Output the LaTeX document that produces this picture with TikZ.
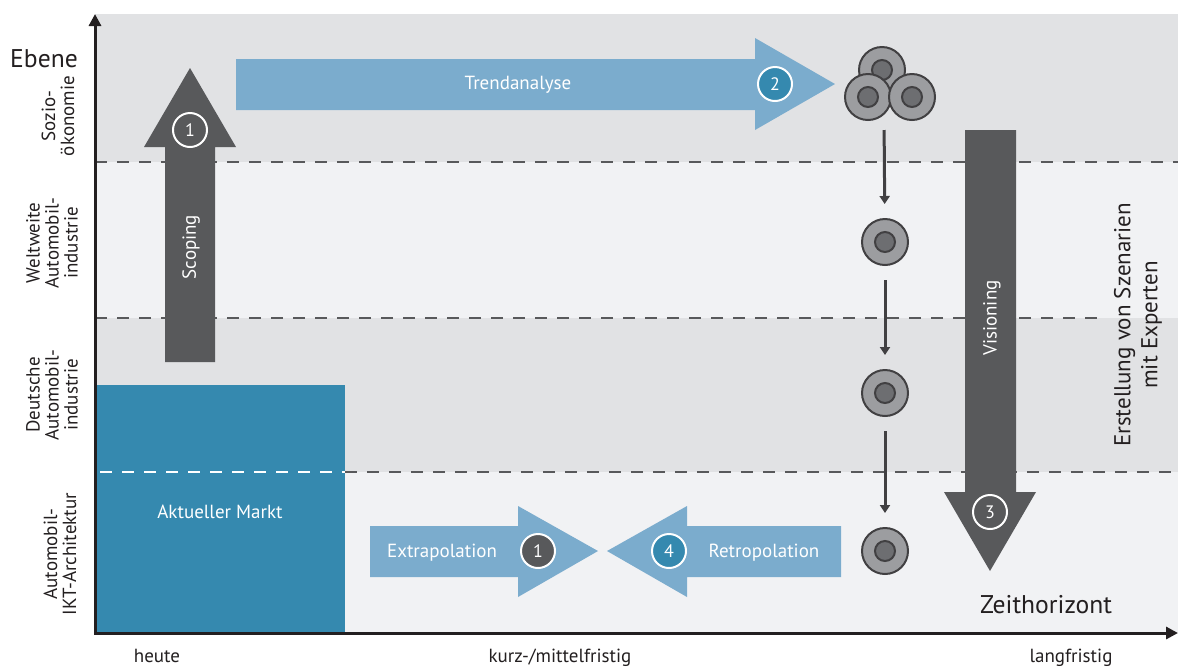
\documentclass[tikz,border=0pt]{standalone}
\usepackage{fontspec}
\setmainfont{PT Sans}
\usetikzlibrary{arrows.meta}
\definecolor{bandgray}{HTML}{E1E2E4}
\definecolor{bandlight}{HTML}{F1F2F4}
\definecolor{dashgray}{HTML}{58595B}
\definecolor{darkarrow}{HTML}{58595B}
\definecolor{lightarrow}{HTML}{7BACCD}
\definecolor{marketblue}{HTML}{3589AF}
\definecolor{axisblack}{HTML}{231F20}
\definecolor{cellline}{HTML}{414042}
\definecolor{cellouter}{HTML}{9C9DA0}
\definecolor{cellinner}{HTML}{6D6E71}
\begin{document}
\begin{tikzpicture}[x=0.5pt, y=-0.5pt,
    lbl/.style = {font=\fontsize{9.5}{9.5}\selectfont, text=axisblack, align=center},
    big/.style = {font=\fontsize{11.5}{13.5}\selectfont, text=axisblack, align=center},
    huge/.style = {font=\fontsize{12.8}{14}\selectfont, text=axisblack},
    wtxt/.style = {font=\fontsize{9.5}{10}\selectfont, text=white},
    num/.style = {circle, draw=white, line width=1pt, minimum size=17pt, inner sep=0pt, text=white, font=\fontsize{9}{9}\selectfont},
    cell/.style = {circle, draw=cellline, fill=cellouter, line width=1pt, minimum size=23pt, inner sep=0pt,
        path picture={\draw[cellline, fill=cellinner, line width=1pt] (path picture bounding box.center) circle (5pt);}},
    sep/.style = {dash pattern=on 6pt off 5pt, line width=1pt, draw=dashgray},
    flow/.style = {draw=cellline, line width=1.5pt, -{Triangle[width=5pt, length=4pt]}, shorten <=7pt, shorten >=7pt}]
    \useasboundingbox (0,0) rectangle (1178,666);
    \fill[bandgray] (95,14) rectangle (1178,162);
    \fill[bandlight] (95,162) rectangle (1178,318);
    \fill[bandgray] (95,318) rectangle (1178,472);
    \fill[bandlight] (95,472) rectangle (1178,633);
    \draw[sep] (95,162) -- (1178,162);
    \draw[sep] (95,318) -- (1100,318);
    \draw[sep] (345,472) -- (1178,472);
    \fill[marketblue] (95,385) rectangle (345,633);
    \draw[sep, draw=white] (100,472) -- (345,472);
    \node[wtxt] (markt) at (220,512) {Aktueller Markt};
    \draw[axisblack, line width=1.5pt, {Triangle[width=6pt, length=6pt]}-{Triangle[width=6pt, length=6pt]}]
        (95,14) -- (95,633) -- (1178,633);
    \fill[darkarrow] (165,362) -- (165,147) -- (144,147) -- (190,68) -- (236,147) -- (215,147) -- (215,362) -- cycle;
    \fill[lightarrow] (236,59) -- (755,59) -- (755,38) -- (835,84) -- (755,130) -- (755,110) -- (236,110) -- cycle;
    \fill[darkarrow] (965,130) -- (1016,130) -- (1016,492) -- (1036,492) -- (990,571) -- (944,492) -- (965,492) -- cycle;
    \fill[lightarrow] (370,526) -- (518,526) -- (518,506) -- (598,551) -- (518,597) -- (518,577) -- (370,577) -- cycle;
    \fill[lightarrow] (841,526) -- (687,526) -- (687,506) -- (607,551) -- (687,597) -- (687,577) -- (841,577) -- cycle;
    \node[wtxt, rotate=90] (scoping) at (191,247) {Scoping};
    \node[wtxt] (trend) at (518,85) {Trendanalyse};
    \node[wtxt, rotate=90] (vision) at (992,318) {Visioning};
    \node[wtxt] (extra) at (442,553) {Extrapolation};
    \node[wtxt] (retro) at (764,553) {Retropolation};
    \node[num, fill=darkarrow] (n1) at (190,130) {1};
    \node[num, fill=marketblue] (n2) at (775,84) {2};
    \node[num, fill=darkarrow] (n3) at (990,512) {3};
    \node[num, fill=darkarrow] (n1b) at (538,551) {1};
    \node[num, fill=marketblue] (n4) at (669,551) {4};
    \node[cell] (k1) at (882,70) {};
    \node[cell] (k2) at (868,97) {};
    \node[cell] (k3) at (912,97) {};
    \coordinate (clus) at (884,116);
    \node[cell] (s1) at (885,242) {};
    \node[cell] (s2) at (885,393) {};
    \node[cell] (s3) at (885,551) {};
    \draw[flow] (clus) -- (s1);
    \draw[flow] (s1) -- (s2);
    \draw[flow] (s2) -- (s3);
    \node[huge] (ebene) at (44,59) {Ebene};
    \node[huge] (zeit) at (1046,605) {Zeithorizont};
    \node[big, rotate=90] (szen) at (1138,325) {Erstellung von Szenarien\\mit Experten};
    \node[lbl, rotate=90] (ls) at (58,116) {Sozio-\\ökonomie};
    \node[lbl, rotate=90] (lw) at (52,243) {Weltweite\\Automobil-\\industrie};
    \node[lbl, rotate=90] (ld) at (52,395) {Deutsche\\Automobil-\\industrie};
    \node[lbl, rotate=90] (la) at (60,554) {Automobil-\\IKT-Architektur};
    \node[lbl, anchor=base] (heute) at (157,662) {heute};
    \node[lbl, anchor=base] (kurz) at (560,662) {kurz-/mittelfristig};
    \node[lbl, anchor=base] (lang) at (1071,662) {langfristig};
\end{tikzpicture}
\end{document}
